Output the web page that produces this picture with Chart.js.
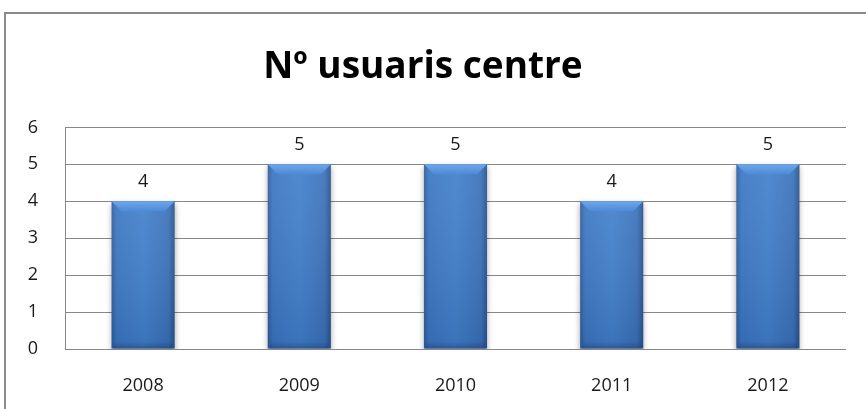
<!DOCTYPE html>
<html>
<head>
<meta charset="utf-8">
<script src="https://cdn.jsdelivr.net/npm/chart.js@4/dist/chart.umd.min.js"></script>
<style>
  html, body { margin: 0; padding: 0; background: #fff; overflow: hidden; }
  #frame { position: absolute; left: 4px; top: 12px; width: 900px; height: 420px;
           border-left: 2px solid #898989; border-top: 2px solid #898989; }
  #wrap { position: absolute; left: 0; top: 0; width: 866px; height: 409px; }
</style>
</head>
<body>
<div id="frame"></div>
<div id="wrap"><canvas id="usuarisChart" width="866" height="409"></canvas></div>
<script>
// dades del gràfic
const years = ['2008', '2009', '2010', '2011', '2012'];
const usuaris = [4, 5, 5, 4, 5];
const yTicks = [0, 1, 2, 3, 4, 5, 6];

const barPct = 0.404;
const font = 'Open Sans';

// degradat horitzontal de cada barra
function barColor(c) {
    const chart = c.chart;
    const xs = chart.scales.x;
    if (!chart.chartArea || !xs || c.dataIndex === undefined) return '#3d78c4';
    const cx = xs.getPixelForValue(c.dataIndex);
    const half = xs.width / years.length * barPct / 2;
    const g = chart.ctx.createLinearGradient(cx - half, 0, cx + half, 0);
    g.addColorStop(0, '#2d5c9c');
    g.addColorStop(0.08, '#3b76c2');
    g.addColorStop(0.5, '#4280cc');
    g.addColorStop(0.9, '#3a72ba');
    g.addColorStop(1, '#28528c');
    return g;
}

// ombra i bisell de les barres
const barEffects = {
    id: 'barEffects',
    beforeDatasetsDraw(chart) {
        const ctx = chart.ctx;
        ctx.save();
        ctx.shadowColor = 'rgba(0,0,0,0.35)';
        ctx.shadowBlur = 6;
        ctx.shadowOffsetY = 3;
    },
    afterDatasetsDraw(chart) {
        const ctx = chart.ctx;
        ctx.restore();
        const meta = chart.getDatasetMeta(0);
        meta.data.forEach(function (bar) {
            const l = bar.x - bar.width / 2, r = bar.x + bar.width / 2;
            const t = bar.y, b = bar.base;
            // més clar a dalt, més fosc a baix
            const v = ctx.createLinearGradient(0, t, 0, b);
            v.addColorStop(0, 'rgba(255,255,255,0.08)');
            v.addColorStop(1, 'rgba(10,30,70,0.14)');
            ctx.fillStyle = v;
            ctx.fillRect(l, t, r - l, b - t);
            // bisell superior
            const bev = 10;
            ctx.beginPath();
            ctx.moveTo(l, t);
            ctx.lineTo(r, t);
            ctx.lineTo(r - bev, t + bev);
            ctx.lineTo(l + bev, t + bev);
            ctx.closePath();
            const tg = ctx.createLinearGradient(0, t, 0, t + bev);
            tg.addColorStop(0, '#6ea6ea');
            tg.addColorStop(1, '#4d8ad6');
            ctx.fillStyle = tg;
            ctx.fill();
            // bisell inferior fosc
            const bb = ctx.createLinearGradient(0, b - 7, 0, b);
            bb.addColorStop(0, 'rgba(20,45,90,0)');
            bb.addColorStop(1, 'rgba(20,45,90,0.35)');
            ctx.fillStyle = bb;
            ctx.fillRect(l + 2, b - 7, r - l - 4, 7);
        });
        // etiquetes de valor
        ctx.save();
        ctx.font = '18px "' + font + '"';
        ctx.fillStyle = '#1a1a1a';
        ctx.textAlign = 'center';
        ctx.textBaseline = 'middle';
        meta.data.forEach(function (bar, i) {
            ctx.fillText(String(usuaris[i]), bar.x, bar.y - 19);
        });
        ctx.restore();
    }
};

new Chart(document.getElementById('usuarisChart'), {
    type: 'bar',
    data: {
        labels: years,
        datasets: [{
            label: 'Nº usuaris centre',
            data: usuaris,
            backgroundColor: barColor,
            borderWidth: 0,
            categoryPercentage: 1,
            barPercentage: barPct
        }]
    },
    options: {
        responsive: false,
        animation: false,
        devicePixelRatio: 1,
        layout: { padding: { left: 0, right: 20, top: 0, bottom: 0 } },
        plugins: {
            legend: { display: false },
            tooltip: { enabled: false },
            title: {
                display: true,
                text: 'Nº usuaris centre',
                color: '#000',
                font: { family: font, size: 37, weight: 'bold', lineHeight: 1.2 },
                padding: { top: 45, bottom: 38 }
            }
        },
        scales: {
            x: {
                grid: { display: false, drawTicks: false },
                border: { display: false },
                ticks: { color: '#1a1a1a', font: { family: font, size: 18 }, padding: 26 },
                afterFit: s => { s.height = 60; }
            },
            y: {
                min: 0,
                max: 6,
                afterBuildTicks: s => { s.ticks = yTicks.map(v => ({ value: v })); },
                grid: { color: '#878787', lineWidth: 1, drawTicks: false },
                border: { display: true, color: '#878787', width: 1 },
                ticks: { color: '#1a1a1a', font: { family: font, size: 18 }, padding: 27 },
                afterFit: s => { s.width = 65; }
            }
        }
    },
    plugins: [barEffects]
});
</script>
</body>
</html>
